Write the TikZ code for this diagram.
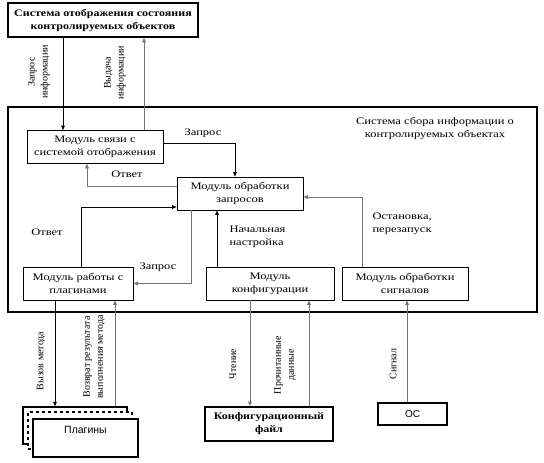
\documentclass[tikz,border=0pt]{standalone}
\usepackage{fontspec}
\setmainfont{Liberation Serif}[FakeStretch=1.25]
\newfontfamily\plainserif{Liberation Serif}
\newfontfamily\boldwide{Liberation Serif}[FakeStretch=1.2]
\newfontfamily\plainsans{Liberation Sans}
\usetikzlibrary{arrows.meta}

\begin{document}
\begin{tikzpicture}[x=1pt,y=-1pt,
    font=\fontsize{10}{13}\selectfont,
    >={Triangle[length=4.5pt,width=3.6pt]},
    modbox/.style={draw,line width=0.7pt,align=center,inner sep=0pt,
                   minimum height=33pt},
    extbox/.style={draw,line width=1.6pt,align=center,inner sep=0pt,
                   font=\boldwide\bfseries\fontsize{10}{13}\selectfont},
    plugbox/.style={draw,fill=white,line width=1.4pt,inner sep=0pt,
                    minimum width=104pt,minimum height=37pt},
    blink/.style={->,line width=0.8pt},
    glink/.style={->,line width=0.8pt,draw=black!55},
    vlabel/.style={rotate=90,align=center,
                   font=\plainserif\fontsize{10}{13}\selectfont}]
  \useasboundingbox (0,0) rectangle (544,463);

  % outer system
  \node[draw,line width=1.6pt,minimum width=529pt,minimum height=205pt,
        inner sep=0pt] (sys) at (272.5,209.5) {};
  \node[align=center] (syslbl) at (435,128)
        {Система сбора информации о\\контролируемых объектах};

  \node[extbox,minimum width=190pt,minimum height=34pt] (disp) at (103,20)
        {Система отображения состояния\\контролируемых объектов};

  % modules
  \node[modbox,minimum width=136pt] (link) at (95,147)
        {Модуль связи с\\системой отображения};
  \node[modbox,minimum width=126pt] (proc) at (240,193.5)
        {Модуль обработки\\запросов};
  \node[modbox,minimum width=110pt] (plug) at (78,283.5)
        {Модуль работы с\\плагинами};
  \node[modbox,minimum width=128pt] (conf) at (270,283.5)
        {Модуль\\конфигурации};
  \node[modbox,minimum width=126pt] (sig) at (405,283.5)
        {Модуль обработки\\сигналов};

  % external
  \node[plugbox] (plugA) at (75,425.5) {};
  \node[plugbox,dashed] (plugB) at (80,430.5) {};
  \node[plugbox,minimum width=105pt,minimum height=38pt,
        label={[font=\plainsans\fontsize{10.5}{13}\selectfont,
                anchor=north,yshift=-4pt]north:Плагины}] (plugC) at (85.5,438) {};
  \node[extbox,minimum width=128pt,minimum height=34pt] (file) at (269,424)
        {Конфигурационный\\файл};
  \node[extbox,minimum width=69pt,minimum height=22pt,
        font=\plainsans\fontsize{10}{13}\selectfont] (os) at (412.5,414) {ОС};

  % x positions of vertical connectors
  \coordinate (xa) at (63,0);
  \coordinate (xb) at (144,0);
  \coordinate (xc) at (87,0);
  \coordinate (xd) at (81,0);
  \coordinate (xe) at (191,0);
  \coordinate (xf) at (217,0);
  \coordinate (xg) at (362,0);
  \coordinate (xh) at (55,0);
  \coordinate (xi) at (115,0);
  \coordinate (xj) at (250,0);
  \coordinate (xk) at (309,0);
  \coordinate (xl) at (407,0);

  \draw[blink] (disp.south -| xa) -- (link.north -| xa);
  \draw[glink] (link.north -| xb) -- (disp.south -| xb);
  \node[vlabel] at (39,72) {Запрос\\информации};
  \node[vlabel] at (115,73) {Выдача\\информации};

  \draw[blink] ([yshift=4pt]link.east) -| ([xshift=-5pt]proc.north);
  \node at (203,133) {Запрос};
  \draw[glink] ([yshift=7.5pt]proc.west) -| (link.south -| xc);
  \node at (127,174) {Ответ};
  \draw[blink] (plug.north -| xd) |- ([yshift=-13.5pt]proc.west);
  \node at (47,232) {Ответ};
  \draw[glink] (proc.south -| xe) |- (plug.east);
  \node at (158,267) {Запрос};
  \draw[blink] (conf.north -| xf) -- (proc.south -| xf);
  \node[align=left,anchor=west] at (226,237) {Начальная\\настройка};
  \draw[glink] (sig.north -| xg) |- ([yshift=-3.5pt]proc.east);
  \node[align=left,anchor=west] at (369,224) {Остановка,\\перезапуск};

  \draw[blink] (plug.south -| xh) -- (plugA.north -| xh);
  \draw[glink] (plugA.north -| xi) -- (plug.south -| xi);
  \node[vlabel] at (41,361) {Вызов метода};
  \node[vlabel] at (94,357) {Возврат результата\\выполнения метода};

  \draw[glink] (conf.south -| xj) -- (file.north -| xj);
  \draw[glink] (file.north -| xk) -- (conf.south -| xk);
  \node[vlabel] at (233,364) {Чтение};
  \node[vlabel] at (285,365) {Прочитанные\\данные};

  \draw[glink] (os.north -| xl) -- (sig.south -| xl);
  \node[vlabel] at (393,364) {Сигнал};
\end{tikzpicture}
\end{document}
